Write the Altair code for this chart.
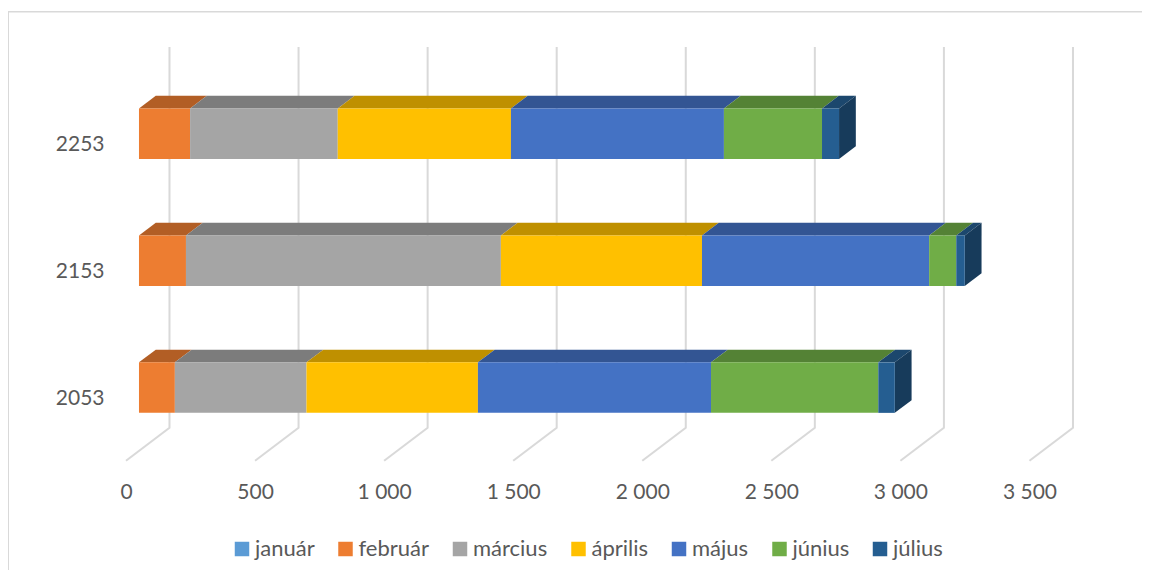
import altair as alt
import pandas as pd

months = ["január", "február", "március", "április", "május", "június", "július"]
years = [2053, 2153, 2253]
s2053 = [0, 139, 510, 664, 903, 648, 64]
s2153 = [0, 182, 1220, 779, 880, 105, 33]
s2253 = [0, 198, 572, 671, 825, 380, 66]
series = {2053: s2053, 2153: s2153, 2253: s2253}
front_colors = ["#5B9BD5", "#ED7D31", "#A5A5A5", "#FFC000", "#4472C4", "#70AD47", "#255E91"]
top_colors = ["#44749F", "#B25E25", "#7C7C7C", "#BF9000", "#335593", "#548235", "#1C476D"]
side_color = "#173B5B"
ticks = [0, 500, 1000, 1500, 2000, 2500, 3000, 3500]

W, H = 1134, 562
BAR_START = 50.3   # value offset of the bar's front plane from the axis front edge
DEPTH_X, DEPTH_Y = 65, 10
BAR_LOW, BAR_HIGH = -12.1, 27.7
FLOOR_X = 168.5
FLOOR_FRONT, FLOOR_BACK, WALL_TOP = 2003.2, 2029.2, 2329.2

xs = alt.Scale(domain=[-457.1, 3935.9], nice=False, zero=False)
ys = alt.Scale(domain=[1917.1, 2359.9], nice=False, zero=False)

front, top, side, grid = [], [], [], []
for yr in years:
    cum = BAR_START
    for m, v, tc in zip(months, series[yr], top_colors):
        a, b = cum, cum + v
        cum = b
        if v == 0:
            continue
        key = f"{yr}-{m}"
        front.append(dict(month=m, a=a, b=b, lo=yr + BAR_LOW, hi=yr + BAR_HIGH))
        top.append(dict(k=key, c=tc, y=yr + BAR_HIGH, a=a, b=b))
        top.append(dict(k=key, c=tc, y=yr + BAR_HIGH + DEPTH_Y, a=a + DEPTH_X, b=b + DEPTH_X))
    side.append(dict(k=yr, x=cum, lo=yr + BAR_LOW, hi=yr + BAR_HIGH))
    side.append(dict(k=yr, x=cum + DEPTH_X, lo=yr + BAR_LOW + DEPTH_Y, hi=yr + BAR_HIGH + DEPTH_Y))

for t in ticks:
    grid.append(dict(t=t, i=0, x=t, y=FLOOR_FRONT))
    grid.append(dict(t=t, i=1, x=t + FLOOR_X, y=FLOOR_BACK))
    grid.append(dict(t=t, i=2, x=t + FLOOR_X, y=WALL_TOP))

label_font = "Lato"
label_color = "#595959"

x_axis = alt.Axis(
    values=ticks, domain=False, ticks=False, grid=False, labelPadding=0, offset=-(H - 473), title=None,
    labelFont=label_font, labelFontSize=21, labelColor=label_color, labelOverlap=False,
    labelFlush=False, labelExpr="replace(format(datum.value, ','), ',', ' ')")
y_axis = alt.Axis(
    values=years, domain=False, ticks=False, grid=False, labelPadding=0, offset=-96, title=None,
    format="d", labelFont=label_font, labelFontSize=21, labelColor=label_color, labelOverlap=False,
    labelFlush=False, labelOffset=1)

grid_layer = alt.Chart(pd.DataFrame(grid)).mark_line(color="#D9D9D9", strokeWidth=2).encode(
    x=alt.X("x:Q", scale=xs, axis=x_axis),
    y=alt.Y("y:Q", scale=ys, axis=y_axis),
    detail="t:N",
    order="i:Q",
)

top_layer = alt.Chart(pd.DataFrame(top)).mark_area(orient="horizontal").encode(
    y=alt.Y("y:Q", scale=ys, axis=y_axis),
    x=alt.X("a:Q", scale=xs, axis=x_axis),
    x2="b:Q",
    detail="k:N",
    color=alt.Color("c:N", scale=None, legend=None),
)

side_layer = alt.Chart(pd.DataFrame(side)).mark_area(orient="vertical", color=side_color).encode(
    x=alt.X("x:Q", scale=xs, axis=x_axis),
    y=alt.Y("lo:Q", scale=ys, axis=y_axis),
    y2="hi:Q",
    detail="k:N",
)

front_layer = alt.Chart(pd.DataFrame(front)).mark_rect().encode(
    x=alt.X("a:Q", scale=xs, axis=x_axis),
    x2="b:Q",
    y=alt.Y("lo:Q", scale=ys, axis=y_axis),
    y2="hi:Q",
    color=alt.Color("month:N", scale=alt.Scale(domain=months, range=front_colors), sort=months,
                    legend=alt.Legend(
                        title=None, orient="none", legendX=223, legendY=530, direction="horizontal",
                        columns=7, symbolType="square", symbolSize=210, symbolStrokeWidth=0,
                        labelFont=label_font, labelFontSize=22, labelColor=label_color,
                        labelOffset=2, columnPadding=19.5, symbolOpacity=1)),
)

frame_top = alt.Chart(pd.DataFrame({"a": [0]})).mark_rule(color="#D9D9D9", strokeWidth=1.4).encode(
    x=alt.value(0), x2=alt.value(W), y=alt.value(3.7))
frame_left = alt.Chart(pd.DataFrame({"a": [0]})).mark_rule(color="#D9D9D9", strokeWidth=1.4).encode(
    x=alt.value(0.3), y=alt.value(3.7), y2=alt.value(H))

chart = alt.layer(frame_top, frame_left, grid_layer, top_layer, side_layer, front_layer).resolve_scale(
    color="independent"
).properties(
    width=W, height=H, padding=0, autosize=alt.AutoSizeParams(type="none"), background="white"
).configure_view(stroke=None)

chart.save("out.html", embed_options={"renderer": "svg", "actions": False})
